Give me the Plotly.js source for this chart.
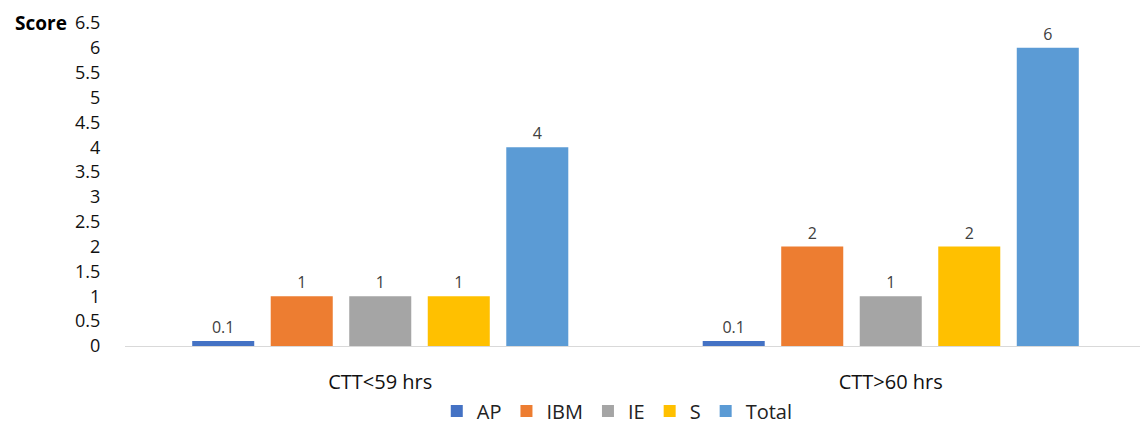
<!DOCTYPE html>
<html>
<head>
<meta charset="utf-8">
<script src="https://cdn.plot.ly/plotly-3.0.1.min.js"></script>
<style>html,body{margin:0;padding:0;background:#fff;}#chart{width:1140px;height:427px;}</style>
</head>
<body>
<div id="chart"></div>
<script>
const categories = ["CTT<59 hrs", "CTT>60 hrs"];
const seriesNames = ["AP", "IBM", "IE", "S", "Total"];
const AP = [0.1, 0.1];
const IBM = [1, 2];
const IE = [1, 1];
const S = [1, 2];
const Total = [4, 6];
const seriesValues = [AP, IBM, IE, S, Total];
const colors = ["#4472C4", "#ED7D31", "#A5A5A5", "#FFC000", "#5B9BD5"];
const yTicks = [0, 0.5, 1, 1.5, 2, 2.5, 3, 3.5, 4, 4.5, 5, 5.5, 6, 6.5];

const font = "'Open Sans', 'Noto Sans', sans-serif";

const traces = seriesNames.map((name, i) => ({
  type: "bar",
  name: name,
  x: categories,
  y: seriesValues[i],
  marker: {color: colors[i], line: {width: 0}},
  text: seriesValues[i].map(v => String(v)),
  textposition: "outside",
  textfont: {family: font, size: 16, color: "#404040"},
  cliponaxis: false,
  hoverinfo: "skip"
}));

const plotLeft = 125, plotWidth = 1015, catWidth = 510.5;

const layout = {
  width: 1140,
  height: 427,
  margin: {l: plotLeft, r: 1140 - plotLeft - plotWidth, t: 23, b: 81, pad: 0, autoexpand: false},
  paper_bgcolor: "#ffffff",
  plot_bgcolor: "#ffffff",
  barmode: "group",
  bargap: 0.231,
  bargroupgap: 0.21,
  showlegend: true,
  legend: {
    orientation: "h",
    x: 0.485, xanchor: "center",
    y: -0.201, yanchor: "middle",
    font: {family: font, size: 20, color: "#222222"},
    traceorder: "normal",
    itemclick: false
  },
  xaxis: {
    type: "category",
    range: [-0.5, -0.5 + plotWidth / catWidth],
    showgrid: false,
    zeroline: false,
    showline: true,
    linecolor: "#D9D9D9",
    linewidth: 1,
    ticks: "outside",
    ticklen: 18,
    tickcolor: "rgba(0,0,0,0)",
    tickfont: {family: font, size: 20, color: "#111111"},
    fixedrange: true
  },
  yaxis: {
    range: [0, 6.5],
    tickvals: yTicks,
    ticktext: yTicks.map(v => String(v)),
    showgrid: false,
    zeroline: false,
    showline: false,
    ticks: "outside",
    ticklen: 20,
    tickcolor: "rgba(0,0,0,0)",
    tickfont: {family: font, size: 18, color: "#111111"},
    fixedrange: true
  },
  annotations: [{
    text: "<b>Score</b>",
    xref: "paper", yref: "paper",
    x: -112 / plotWidth, xanchor: "left",
    y: 1, yanchor: "middle",
    showarrow: false,
    font: {family: font, size: 19, color: "#000000"}
  }]
};

Plotly.newPlot("chart", traces, layout, {displayModeBar: false, staticPlot: true});
</script>
</body>
</html>
